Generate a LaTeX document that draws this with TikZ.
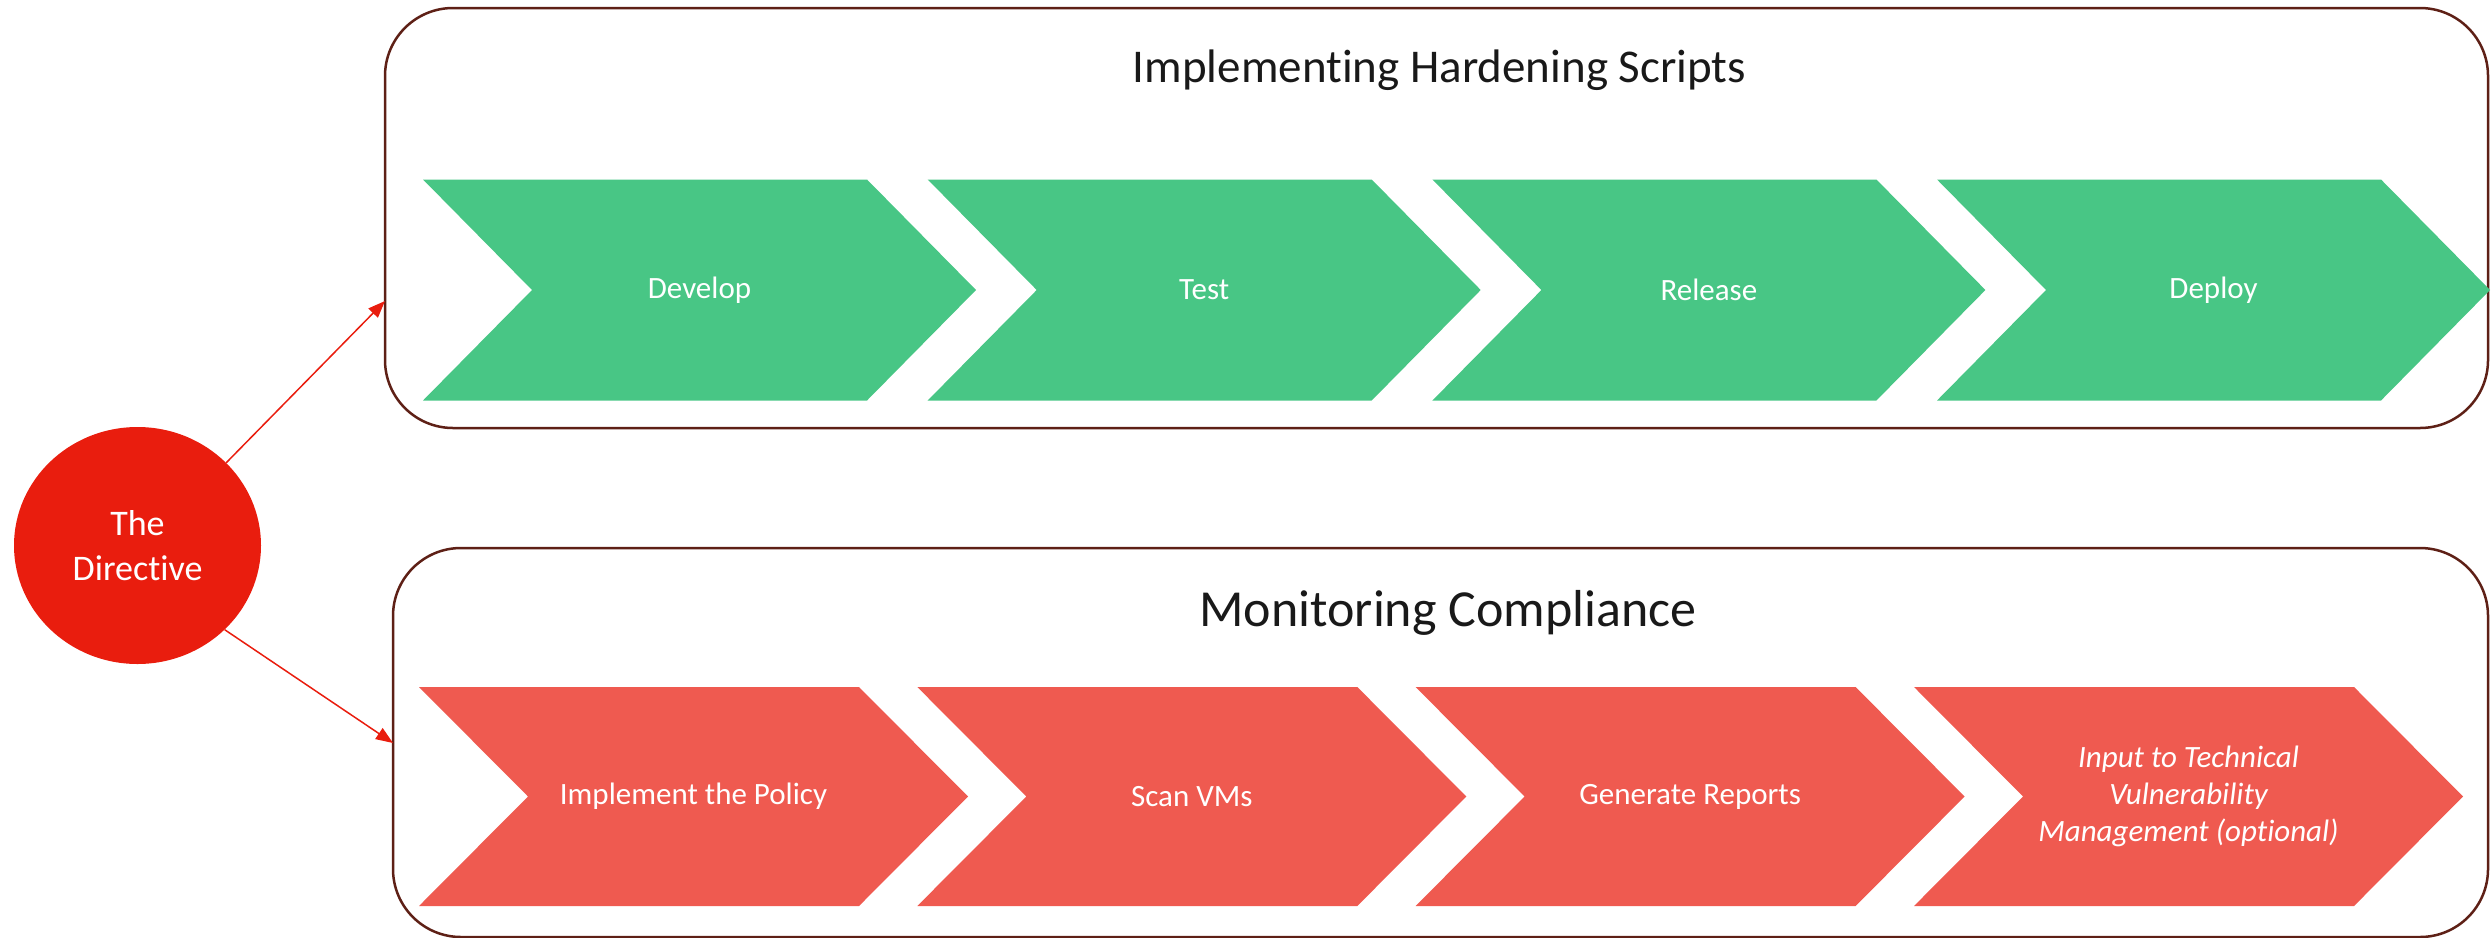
\documentclass[tikz,border=0pt]{standalone}
\usepackage{fontspec}
\setmainfont{Carlito}[Ligatures=NoCommon]
\usetikzlibrary{arrows.meta,shapes.geometric}
\definecolor{chevgreen}{RGB}{72,198,133}
\definecolor{chevred}{RGB}{239,90,80}
\definecolor{dirred}{RGB}{233,29,14}
\definecolor{boxbrown}{RGB}{94,32,22}
\tikzset{
  panel/.style={draw=boxbrown, line width=2.5pt, rounded corners=68pt, inner sep=0pt, fill=none},
  chevtext/.style={text=white, font=\fontsize{31}{37}\selectfont, align=center, inner sep=0pt},
  titletext/.style={text=black!90, inner sep=0pt, anchor=base},
  link/.style={draw=dirred, line width=1.5pt, -{Triangle[length=17pt,width=13pt]}},
}
\newcommand{\mychev}[8]{%
  \fill[#7] (#2,#4) -- ({#2+#3-#6},#4) -- ({#2+#3},{(#4+#5)/2}) -- ({#2+#3-#6},#5) -- (#2,#5) -- ({#2+#6},{(#4+#5)/2}) -- cycle;
  \node[chevtext] (#1) at ({#2+#3/2},{(#4+#5)/2}) {#8};
}
\begin{document}
\begin{tikzpicture}[x=1pt,y=-1pt]
\useasboundingbox (0,0) rectangle (2491,937);
% panels
\node[panel, minimum width=2103pt, minimum height=420pt] (hardening) at (1436.5,218) {};
\node[panel, minimum width=2095pt, minimum height=389pt] (monitoring) at (1440.5,742.5) {};
% titles
\node[titletext, font=\fontsize{47}{56}\selectfont] (t1title) at (1439.5,82) {Implementing Hardening Scripts};
\node[titletext, font=\fontsize{52}{62}\selectfont] (t2title) at (1448,626) {Monitoring Compliance};
% top chevrons
\mychev{develop}{423}{553}{179.5}{400.5}{109}{chevgreen}{Develop}
\mychev{test}{927.7}{553}{179.5}{400.5}{109}{chevgreen}{Test}
\mychev{release}{1432.4}{553}{179.5}{400.5}{109}{chevgreen}{Release}
\mychev{deploy}{1937}{553}{179.5}{400.5}{109}{chevgreen}{Deploy}
% bottom chevrons
\mychev{implement}{419}{549}{687}{906}{109}{chevred}{Implement the Policy}
\mychev{scan}{917.3}{549}{687}{906}{109}{chevred}{Scan VMs}
\mychev{generate}{1415.6}{549}{687}{906}{109}{chevred}{Generate Reports}
\mychev{input}{1914}{549}{687}{906}{109}{chevred}{\itshape Input to Technical\\\itshape Vulnerability\\\itshape Management (optional)}
% directive
\node[ellipse, fill=dirred, minimum width=247pt, minimum height=237pt, inner sep=0pt] (dir) at (137.5,545.5) {};
\node[text=white, font=\fontsize{36}{45}\selectfont, align=center, inner sep=0pt] (dirtext) at (137.5,546) {The\\Directive};
% connectors
\coordinate (end1) at (385,301);
\coordinate (end2) at (393,743);
\draw[link] (dir.43) -- (end1);
\draw[link] (dir.-44) -- (end2);
\end{tikzpicture}
\end{document}
